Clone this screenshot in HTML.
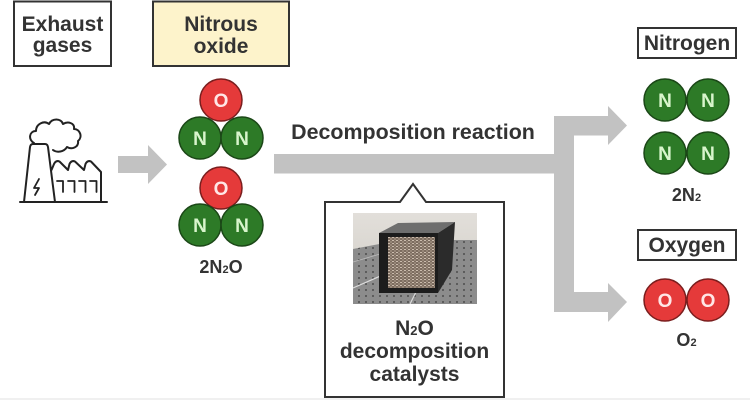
<!DOCTYPE html>
<html>
<head>
<meta charset="utf-8">
<style>
html,body{margin:0;padding:0;background:#fff;}
svg{display:block;}
text{font-family:"Liberation Sans",Arial,sans-serif;font-weight:bold;}
</style>
</head>
<body>
<svg width="750" height="400" viewBox="0 0 750 400" xmlns="http://www.w3.org/2000/svg">
  <rect x="0" y="0" width="750" height="400" fill="#ffffff"/>
  <line x1="0" y1="399" x2="750" y2="399" stroke="#e2e2e2" stroke-width="1"/>

  <!-- Top-left boxes -->
  <rect x="14" y="1.5" width="97" height="64.5" fill="#fff" stroke="#333" stroke-width="2"/>
  <text x="62.5" y="31" font-size="21" fill="#333" text-anchor="middle">Exhaust</text>
  <text x="62.5" y="52" font-size="21" fill="#333" text-anchor="middle">gases</text>

  <rect x="153" y="1.5" width="136" height="64.5" fill="#fdf3cb" stroke="#333" stroke-width="2"/>
  <text x="221" y="31" font-size="21" fill="#333" text-anchor="middle">Nitrous</text>
  <text x="221" y="53" font-size="21" fill="#333" text-anchor="middle">oxide</text>

  <!-- Factory icon -->
  <g fill="none" stroke="#222" stroke-width="2" stroke-linejoin="round" stroke-linecap="round">
    <line x1="20" y1="202" x2="107" y2="202"/>
    <path d="M24,202 L30,147 Q30.5,144 33,144 L45,144 Q47.5,144 48,147 L55,202"/>
    <path d="M39,179 L34,188 L39,188 L35,195" stroke-width="1.8"/>
    <path d="M51.5,170 L54,164 Q56,160 59.5,161.5 L68,170 L69.5,164 Q71.5,160 75,161.5 L84,170 L85.5,164 Q87.5,160 91,161.5 L101,172 L101,202"/>
    <path d="M57,181 L63,181 L63,192 M68,181 L74.5,181 L74.5,192 M79,181 L85.5,181 L85.5,192 M90,181 L96.5,181 L96.5,192" stroke-width="1.8"/>
    <path d="M34,143 C28,140 29,131 36,131 C36,124 44,120 49,124 C52,118 61,118 63,124 C68,121 75,123 74,129 C80,129 83,137 78,141 C79,147 72,150 67,147 C64,152 57,153 53,150"/>
  </g>

  <!-- Left arrow -->
  <polygon points="118,156 148,156 148,145 167,164.5 148,184 148,173 118,173" fill="#c2c2c2"/>

  <!-- N2O molecules -->
  <g stroke-width="1.5">
    <circle cx="221" cy="100" r="21" fill="#e53a3a" stroke="#7a1e1e"/>
    <circle cx="200" cy="138" r="21" fill="#2d7a27" stroke="#1b4717"/>
    <circle cx="242" cy="138" r="21" fill="#2d7a27" stroke="#1b4717"/>
    <circle cx="221" cy="188" r="21" fill="#e53a3a" stroke="#7a1e1e"/>
    <circle cx="200" cy="225" r="21" fill="#2d7a27" stroke="#1b4717"/>
    <circle cx="242" cy="225" r="21" fill="#2d7a27" stroke="#1b4717"/>
  </g>
  <g font-size="19" text-anchor="middle">
    <text x="221" y="107" fill="#ffe6e6">O</text>
    <text x="200" y="145" fill="#d8f5cc">N</text>
    <text x="242" y="145" fill="#d8f5cc">N</text>
    <text x="221" y="195" fill="#ffe6e6">O</text>
    <text x="200" y="232" fill="#d8f5cc">N</text>
    <text x="242" y="232" fill="#d8f5cc">N</text>
  </g>
  <text x="221" y="273" font-size="18" fill="#333" text-anchor="middle">2N<tspan font-size="11">2</tspan>O</text>

  <!-- Main arrows -->
  <g fill="#c2c2c2">
    <rect x="274" y="154" width="300" height="19.5"/>
    <rect x="554" y="116" width="20" height="196"/>
    <rect x="554" y="116" width="55" height="19.5"/>
    <polygon points="608,106 627,125.5 608,145"/>
    <rect x="554" y="292" width="55" height="20"/>
    <polygon points="608,283 627,302 608,322"/>
  </g>
  <text x="413" y="139" font-size="21.4" fill="#333" text-anchor="middle">Decomposition reaction</text>

  <!-- Catalyst callout -->
  <path d="M325,202 L400,202 L413,184 L426,202 L504,202 L504,397 L325,397 Z" fill="#fff" stroke="#333" stroke-width="2" stroke-linejoin="miter"/>

  <!-- Photo -->
  <defs>
    <clipPath id="ph"><rect x="353" y="213" width="124" height="91"/></clipPath>
    <pattern id="dots" x="0" y="0" width="7" height="6" patternUnits="userSpaceOnUse">
      <circle cx="2" cy="2" r="0.9" fill="#3a3a3a"/>
    </pattern>
    <pattern id="tex" x="0" y="0" width="4" height="3" patternUnits="userSpaceOnUse">
      <rect width="4" height="3" fill="#7d6d60"/>
      <rect x="0" y="0" width="2" height="1" fill="#cbbcad"/>
      <rect x="2" y="1.5" width="2" height="1" fill="#b09e8e"/>
    </pattern>
    <linearGradient id="wall" x1="0" y1="0" x2="0" y2="1">
      <stop offset="0" stop-color="#e2dfda"/>
      <stop offset="1" stop-color="#cfcbc5"/>
    </linearGradient>
  </defs>
  <g clip-path="url(#ph)">
    <rect x="353" y="213" width="124" height="91" fill="url(#wall)"/>
    <polygon points="353,249 400,240 477,240 477,304 353,304" fill="#8c8c8c"/>
    <polygon points="353,249 400,240 477,240 477,304 353,304" fill="url(#dots)"/>
    <line x1="353" y1="288" x2="385" y2="274" stroke="#dcdcdc" stroke-width="1.2"/>
    <line x1="417" y1="290" x2="410" y2="304" stroke="#dcdcdc" stroke-width="1.2"/>
    <line x1="353" y1="262" x2="380" y2="254" stroke="#bdbdbd" stroke-width="0.8"/>
    <!-- box -->
    <polygon points="379,233 398,223 455,222 438,233" fill="#6e6e6e"/>
    <polygon points="438,233 455,222 452,270 438,293" fill="#2b2b2b"/>
    <rect x="379" y="233" width="59" height="60" fill="#1c1c1c"/>
    <rect x="388" y="237" width="47" height="51" fill="url(#tex)"/>
  </g>

  <text x="414.5" y="335" font-size="21" fill="#333" text-anchor="middle">N<tspan font-size="13">2</tspan>O</text>
  <text x="414.5" y="358" font-size="21" fill="#333" text-anchor="middle">decomposition</text>
  <text x="414.5" y="381" font-size="21" fill="#333" text-anchor="middle">catalysts</text>

  <!-- Nitrogen -->
  <rect x="638" y="28" width="98" height="30" fill="#fff" stroke="#333" stroke-width="2"/>
  <text x="687" y="50" font-size="21" fill="#333" text-anchor="middle">Nitrogen</text>
  <g stroke-width="1.5" fill="#2d7a27" stroke="#1b4717">
    <circle cx="665" cy="100" r="21"/>
    <circle cx="708" cy="100" r="21"/>
    <circle cx="665" cy="153" r="21"/>
    <circle cx="708" cy="153" r="21"/>
  </g>
  <g font-size="19" text-anchor="middle" fill="#d8f5cc">
    <text x="665" y="107">N</text>
    <text x="708" y="107">N</text>
    <text x="665" y="160">N</text>
    <text x="708" y="160">N</text>
  </g>
  <text x="686.5" y="201" font-size="18" fill="#333" text-anchor="middle">2N<tspan font-size="11">2</tspan></text>

  <!-- Oxygen -->
  <rect x="638" y="230" width="98" height="30" fill="#fff" stroke="#333" stroke-width="2"/>
  <text x="687" y="252" font-size="21" fill="#333" text-anchor="middle">Oxygen</text>
  <g stroke-width="1.5" fill="#e53a3a" stroke="#7a1e1e">
    <circle cx="665" cy="300" r="21"/>
    <circle cx="708" cy="300" r="21"/>
  </g>
  <g font-size="19" text-anchor="middle" fill="#ffe6e6">
    <text x="665" y="307">O</text>
    <text x="708" y="307">O</text>
  </g>
  <text x="686.5" y="346" font-size="18" fill="#333" text-anchor="middle">O<tspan font-size="11">2</tspan></text>
</svg>
</body>
</html>
